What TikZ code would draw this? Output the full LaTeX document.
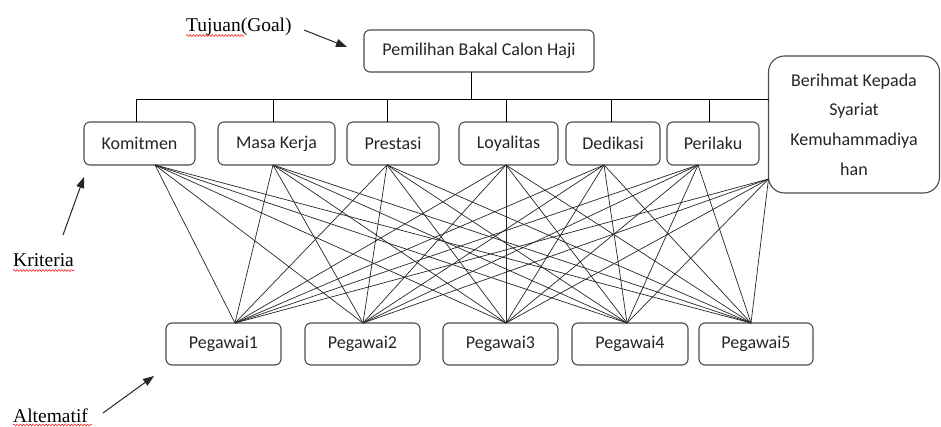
\documentclass[tikz,border=0pt]{standalone}
\usepackage{fontspec}
\setmainfont{Liberation Serif}
\newfontfamily\boxfont{Carlito}
\usetikzlibrary{arrows.meta,decorations.pathmorphing}
\tikzset{
  x=1pt,y=-1pt,
  critbox/.style={draw=black!70,line width=1.1pt,rounded corners=6pt,fill=white,
    minimum height=43pt,inner sep=0pt,font=\boxfont\fontsize{18}{22}\selectfont,text=black!85},
  altbox/.style={critbox,minimum height=42pt},
  link/.style={line width=0.7pt,black!85},
  tree/.style={line width=0.9pt,black},
  note/.style={font=\fontsize{19.5}{22}\selectfont,inner sep=0pt,anchor=base west},
  notearrow/.style={line width=1pt,black!85,-{Triangle[length=11pt,width=8pt]}},
  squiggle/.style={red!85,line width=0.6pt,decorate,decoration={snake,amplitude=0.9pt,segment length=3.2pt}}
}
\begin{document}
\begin{tikzpicture}
\useasboundingbox (0,0) rectangle (941,427);
% goal
\node[critbox,minimum width=230pt,minimum height=42pt] (goal) at (479,51) {Pemilihan Bakal Calon Haji};
% criteria
\node[critbox,minimum width=111pt] (k1) at (139.5,143.5) {Komitmen};
\node[critbox,minimum width=117pt] (k2) at (276.5,143.5) {Masa Kerja};
\node[critbox,minimum width=92pt] (k3) at (393,143.5) {Prestasi};
\node[critbox,minimum width=99pt] (k4) at (508.5,143.5) {Loyalitas};
\node[critbox,minimum width=94pt] (k5) at (613,143.5) {Dedikasi};
\node[critbox,minimum width=92pt] (k6) at (713,143.5) {Perilaku};
\node[critbox,minimum width=171pt,minimum height=137pt,rounded corners=16pt,align=center,
  font=\boxfont\fontsize{18}{29.7}\selectfont] (k7) at (854,124.5) {Berihmat Kepada\\Syariat\\Kemuhammadiya\\han};
% alternatives
\node[altbox,minimum width=115pt] (p1) at (223.5,344) {Pegawai1};
\node[altbox,minimum width=115pt] (p2) at (362.5,344) {Pegawai2};
\node[altbox,minimum width=115pt] (p3) at (500.5,344) {Pegawai3};
\node[altbox,minimum width=116pt] (p4) at (630,344) {Pegawai4};
\node[altbox,minimum width=114pt] (p5) at (756,344) {Pegawai5};
% tree
\coordinate (gb) at (471,72);
\coordinate (gj) at (471,99);
\coordinate (hl) at (136,99);
\coordinate (hr) at (769,99);
\draw[tree] (gb) -- (gj);
\draw[tree] (hl) -- (hr);
\foreach \xx/\n in {136/k1,273/k2,387/k3,506/k4,611/k5,709/k6}{
  \coordinate (t\n) at (\xx,99);
  \coordinate (d\n) at (\xx,122);
  \draw[tree] (t\n) -- (d\n);
}
% link anchors
\coordinate (s1) at (155,165);
\coordinate (s2) at (273,165);
\coordinate (s3) at (387,165);
\coordinate (s4) at (506,165);
\coordinate (s5) at (604,165);
\coordinate (s6) at (698,165);
\coordinate (s7) at (768.5,179);
\coordinate (e1) at (235,323);
\coordinate (e2) at (363,323);
\coordinate (e3) at (506,323);
\coordinate (e4) at (627,323);
\coordinate (e5) at (751,323);
\foreach \i in {1,...,7}{
  \foreach \j in {1,...,5}{
    \draw[link] (s\i) -- (e\j);
  }
}
% notes
\node[note] (tj) at (186,32) {Tujuan(Goal)};
\node[note] (kr) at (13,267) {Kriteria};
\node[note] (al) at (13,422) {Altematif};
\coordinate (tja) at (304,30);
\coordinate (tjb) at (347,47);
\coordinate (kra) at (63,235);
\coordinate (krb) at (84,177);
\coordinate (ala) at (103,413);
\coordinate (alb) at (154,376);
\draw[notearrow] (tja) -- (tjb);
\draw[notearrow] (kra) -- (krb);
\draw[notearrow] (ala) -- (alb);
% spell-check underlines
\coordinate (q1a) at (186,35.5);
\coordinate (q1b) at (244,35.5);
\coordinate (q2a) at (13,270.5);
\coordinate (q2b) at (74,270.5);
\coordinate (q3a) at (13,425);
\coordinate (q3b) at (92,425);
\draw[squiggle] (q1a) -- (q1b);
\draw[squiggle] (q2a) -- (q2b);
\draw[squiggle] (q3a) -- (q3b);
\end{tikzpicture}
\end{document}
